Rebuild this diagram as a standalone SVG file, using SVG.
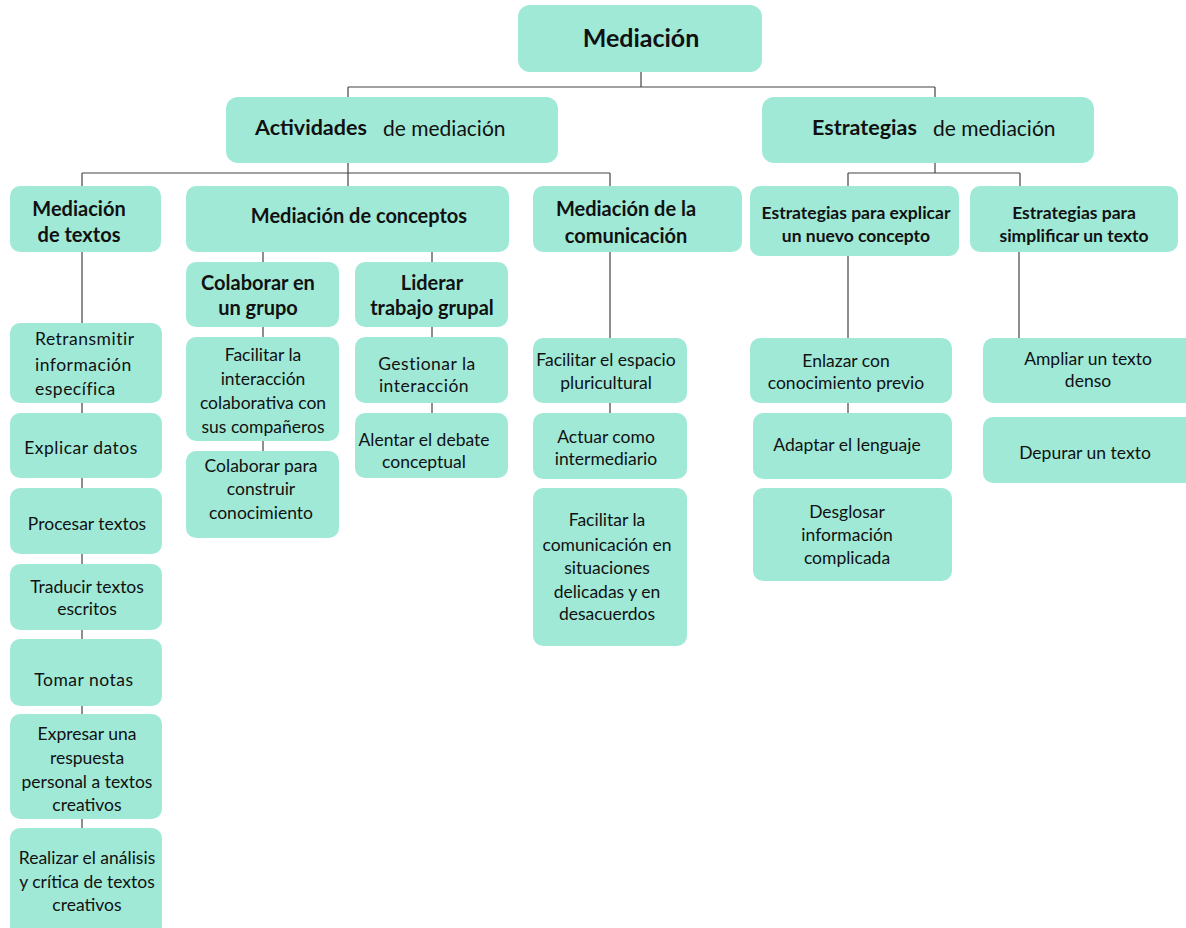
<svg xmlns="http://www.w3.org/2000/svg" width="1186" height="928" viewBox="0 0 1186 928">
<style>
.b{fill:#A0E9D7;}
.t{font-family:Lato,"Liberation Sans",sans-serif;font-size:17.5px;fill:#111;text-anchor:middle;dominant-baseline:central;}
.h{font-family:Lato,"Liberation Sans",sans-serif;font-size:20px;font-weight:bold;fill:#111;text-anchor:middle;dominant-baseline:central;}
.s{font-size:17.5px;}
.w{letter-spacing:0.5px;}
.c{stroke:#444;stroke-width:1.2;fill:none;}
</style>
<rect width="1186" height="928" fill="#fff"/>
<g id="connectors">
<path class="c" d="M641 72V87M348 87H935M348 87V97M935 87V97"/>
<path class="c" d="M348 162V173M82 173H610M82 173V186M348 173V186M610 173V186"/>
<path class="c" d="M935 162V173M848 173H1020M848 173V186M1020 173V186"/>
<path class="c" d="M263 252V262M432 252V262"/>
<path class="c" d="M82 252V323M82 403V413M82 478V488M82 554V564M82 630V639M82 706V714M82 819V828"/>
<path class="c" d="M263 327V337M263 441V451"/>
<path class="c" d="M432 327V337M432 403V413"/>
<path class="c" d="M610 252V338M610 403V413"/>
<path class="c" d="M848 256V338M848 403V413"/>
<path class="c" d="M1019 252V338"/>
</g>
<g id="n-mediacion"><rect class="b" x="518" y="5" width="244" height="67" rx="12"/><text class="h" x="641" y="37" style="font-size:25px">Mediación</text></g>
<g id="n-actividades"><rect class="b" x="226" y="97" width="332" height="66" rx="12"/><text class="h" x="255" y="127" style="font-size:21.5px;text-anchor:start">Actividades</text><text class="t" x="383" y="127" style="font-size:21px;text-anchor:start">de mediación</text></g>
<g id="n-estrategias"><rect class="b" x="762" y="97" width="332" height="66" rx="12"/><text class="h" x="812" y="127" style="font-size:21.5px;text-anchor:start">Estrategias</text><text class="t" x="933" y="127" style="font-size:21px;text-anchor:start">de mediación</text></g>
<g id="n-med-textos"><rect class="b" x="10" y="186" width="151" height="66" rx="10"/><text class="h" x="79" y="208">Mediación</text><text class="h" x="79" y="234">de textos</text></g>
<g id="n-med-conceptos"><rect class="b" x="186" y="186" width="323" height="66" rx="10"/><text class="h" x="359" y="215">Mediación de conceptos</text></g>
<g id="n-med-comunicacion"><rect class="b" x="533" y="186" width="209" height="66" rx="10"/><text class="h" x="626" y="208">Mediación de la</text><text class="h" x="626" y="235">comunicación</text></g>
<g id="n-estr-explicar"><rect class="b" x="750" y="186" width="209" height="70" rx="10"/><text class="h s" x="856" y="212">Estrategias para explicar</text><text class="h s" x="856" y="235">un nuevo concepto</text></g>
<g id="n-estr-simplificar"><rect class="b" x="970" y="186" width="208" height="66" rx="10"/><text class="h s" x="1074" y="212">Estrategias para</text><text class="h s" x="1074" y="235">simplificar un texto</text></g>
<g id="n-colaborar-grupo"><rect class="b" x="186" y="262" width="153" height="65" rx="10"/><text class="h" x="258" y="282">Colaborar en</text><text class="h" x="258" y="307">un grupo</text></g>
<g id="n-liderar"><rect class="b" x="355" y="262" width="153" height="65" rx="10"/><text class="h" x="432" y="282">Liderar</text><text class="h" x="432" y="307">trabajo grupal</text></g>
<g id="n-retransmitir"><rect class="b" x="10" y="323" width="152" height="80" rx="10"/><text class="t w" x="35" y="338" style="text-anchor:start">Retransmitir</text><text class="t w" x="35" y="364" style="text-anchor:start">información</text><text class="t w" x="35" y="388" style="text-anchor:start">específica</text></g>
<g id="n-explicar-datos"><rect class="b" x="10" y="413" width="152" height="65" rx="10"/><text class="t w" x="81" y="447">Explicar  datos</text></g>
<g id="n-procesar"><rect class="b" x="10" y="488" width="152" height="66" rx="10"/><text class="t" x="87" y="523">Procesar textos</text></g>
<g id="n-traducir"><rect class="b" x="10" y="564" width="152" height="66" rx="10"/><text class="t" x="87" y="586">Traducir textos</text><text class="t" x="87" y="608">escritos</text></g>
<g id="n-tomar"><rect class="b" x="10" y="639" width="152" height="67" rx="10"/><text class="t w" x="84" y="679">Tomar  notas</text></g>
<g id="n-expresar"><rect class="b" x="10" y="714" width="152" height="105" rx="10"/><text class="t" x="87" y="733">Expresar una</text><text class="t" x="87" y="757">respuesta</text><text class="t" x="87" y="781">personal a textos</text><text class="t" x="87" y="804">creativos</text></g>
<g id="n-realizar"><rect class="b" x="10" y="828" width="152" height="110" rx="10"/><text class="t" x="87" y="857">Realizar el análisis</text><text class="t" x="87" y="881">y crítica de textos</text><text class="t" x="87" y="904">creativos</text></g>
<g id="n-facilitar-interaccion"><rect class="b" x="186" y="337" width="153" height="104" rx="10"/><text class="t" x="263" y="354">Facilitar la</text><text class="t" x="263" y="378">interacción</text><text class="t" x="263" y="402">colaborativa con</text><text class="t" x="263" y="426">sus compañeros</text></g>
<g id="n-colaborar-construir"><rect class="b" x="186" y="451" width="153" height="87" rx="10"/><text class="t" x="261" y="465">Colaborar para</text><text class="t" x="261" y="488">construir</text><text class="t" x="261" y="512">conocimiento</text></g>
<g id="n-gestionar"><rect class="b" x="355" y="337" width="153" height="66" rx="10"/><text class="t w" x="427" y="363">Gestionar  la</text><text class="t w" x="424" y="385">interacción</text></g>
<g id="n-alentar"><rect class="b" x="355" y="413" width="153" height="65" rx="10"/><text class="t" x="424" y="439">Alentar el debate</text><text class="t" x="424" y="461">conceptual</text></g>
<g id="n-espacio"><rect class="b" x="533" y="338" width="154" height="65" rx="10"/><text class="t" x="606" y="359">Facilitar el espacio</text><text class="t" x="606" y="382">pluricultural</text></g>
<g id="n-actuar"><rect class="b" x="533" y="413" width="154" height="66" rx="10"/><text class="t" x="606" y="436">Actuar como</text><text class="t" x="606" y="458">intermediario</text></g>
<g id="n-facilitar-comunicacion"><rect class="b" x="533" y="488" width="154" height="158" rx="10"/><text class="t" x="607" y="519">Facilitar la</text><text class="t" x="607" y="544">comunicación en</text><text class="t" x="607" y="567">situaciones</text><text class="t" x="607" y="591">delicadas y en</text><text class="t" x="607" y="613">desacuerdos</text></g>
<g id="n-enlazar"><rect class="b" x="750" y="338" width="202" height="65" rx="10"/><text class="t" x="846" y="360">Enlazar con</text><text class="t" x="846" y="382">conocimiento previo</text></g>
<g id="n-adaptar"><rect class="b" x="753" y="413" width="199" height="66" rx="10"/><text class="t" x="847" y="444">Adaptar el lenguaje</text></g>
<g id="n-desglosar"><rect class="b" x="753" y="488" width="199" height="93" rx="10"/><text class="t" x="847" y="511">Desglosar</text><text class="t" x="847" y="534">información</text><text class="t" x="847" y="557">complicada</text></g>
<g id="n-ampliar"><rect class="b" x="983" y="338" width="215" height="65" rx="10"/><text class="t" x="1088" y="358">Ampliar un texto</text><text class="t" x="1088" y="380">denso</text></g>
<g id="n-depurar"><rect class="b" x="983" y="417" width="215" height="66" rx="10"/><text class="t" x="1085" y="452">Depurar un texto</text></g>
</svg>
